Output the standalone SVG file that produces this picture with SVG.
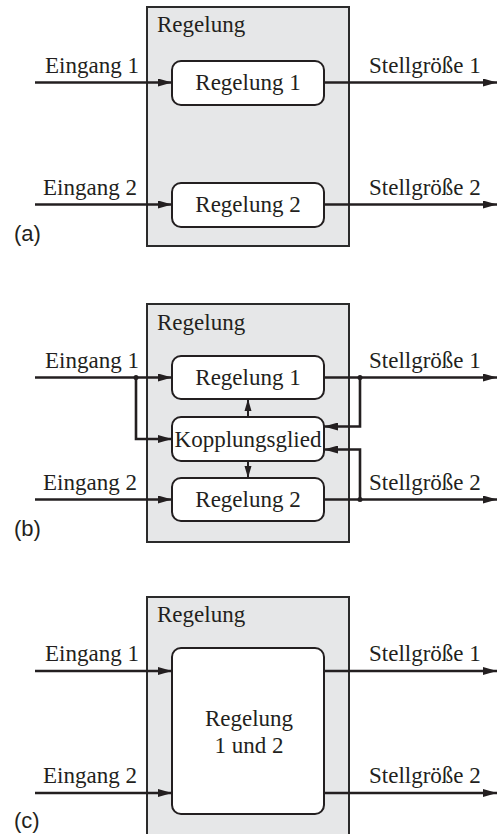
<svg xmlns="http://www.w3.org/2000/svg" width="497" height="834" viewBox="0 0 497 834">
  <style>
    .frame { fill: #e6e7e8; stroke: #2b2b2b; stroke-width: 2; }
    .block { fill: #ffffff; stroke: #231f20; stroke-width: 2; }
    .wire { fill: none; stroke: #231f20; stroke-width: 2.6; }
    .thin { fill: none; stroke: #231f20; stroke-width: 2; }
    .lbl { font-family: "Liberation Serif", "Times New Roman", serif; font-size: 23px; fill: #231f20; }
    .mid { text-anchor: middle; }
    .tag { font-family: "Liberation Sans", Arial, sans-serif; font-size: 22px; fill: #231f20; }
    .dot { fill: #231f20; }
  </style>
  <defs>
    <marker id="arr" markerUnits="userSpaceOnUse" markerWidth="14" markerHeight="8" refX="14" refY="4" orient="auto">
      <path d="M0,0 L14,4 L0,8 z" fill="#231f20"/>
    </marker>
    <marker id="arrS" markerUnits="userSpaceOnUse" markerWidth="12" markerHeight="8" refX="12" refY="4" orient="auto">
      <path d="M0,0.5 L12,4 L0,7.5 z" fill="#231f20"/>
    </marker>
  </defs>

  <!-- (a) two independent controllers -->
  <g id="frameA">
    <rect class="frame" x="147" y="7" width="202" height="239"/>
    <text class="lbl" x="157" y="32">Regelung</text>
  </g>
  <g id="a_reg1">
    <rect class="block" x="172" y="61" width="152" height="44" rx="9"/>
    <text class="lbl mid" x="248" y="90">Regelung 1</text>
  </g>
  <g id="a_reg2">
    <rect class="block" x="172" y="183" width="152" height="44" rx="9"/>
    <text class="lbl mid" x="248" y="212">Regelung 2</text>
  </g>
  <g id="a_connectors">
    <path class="wire" d="M35,82.5 H172" marker-end="url(#arr)"/>
    <path class="wire" d="M35,204.5 H172" marker-end="url(#arr)"/>
    <path class="wire" d="M324,82.5 H497" marker-end="url(#arr)"/>
    <path class="wire" d="M324,204.5 H497" marker-end="url(#arr)"/>
  </g>
  <g id="a_labels">
    <text class="lbl" x="45" y="73">Eingang 1</text>
    <text class="lbl" x="43" y="195">Eingang 2</text>
    <text class="lbl" x="369" y="73">Stellgröße 1</text>
    <text class="lbl" x="369" y="195">Stellgröße 2</text>
    <text class="tag" x="14" y="241">(a)</text>
  </g>

  <!-- (b) controllers with coupling element -->
  <g id="frameB">
    <rect class="frame" x="147" y="304" width="202" height="238"/>
    <text class="lbl" x="157" y="330">Regelung</text>
  </g>
  <g id="b_reg1">
    <rect class="block" x="172" y="356" width="152" height="43" rx="9"/>
    <text class="lbl mid" x="248" y="385">Regelung 1</text>
  </g>
  <g id="b_koppl">
    <rect class="block" x="172" y="417" width="152" height="44" rx="9"/>
    <text class="lbl mid" x="248" y="447">Kopplungsglied</text>
  </g>
  <g id="b_reg2">
    <rect class="block" x="172" y="478" width="152" height="43" rx="9"/>
    <text class="lbl mid" x="248" y="507">Regelung 2</text>
  </g>
  <g id="b_connectors">
    <path class="wire" d="M35,377.5 H172" marker-end="url(#arr)"/>
    <path class="wire" d="M35,499.5 H172" marker-end="url(#arr)"/>
    <path class="wire" d="M324,377.5 H497" marker-end="url(#arr)"/>
    <path class="wire" d="M324,499.5 H497" marker-end="url(#arr)"/>
    <path class="wire" d="M136,377.5 V439 H172" marker-end="url(#arr)"/>
    <path class="wire" d="M360,377.5 V426.5 H324" marker-end="url(#arr)"/>
    <path class="wire" d="M360,499.5 V449.5 H324" marker-end="url(#arr)"/>
    <path class="thin" d="M248,417 V399" marker-end="url(#arrS)"/>
    <path class="thin" d="M248,461 V478" marker-end="url(#arrS)"/>
    <circle class="dot" cx="136" cy="377.5" r="2.5"/>
    <circle class="dot" cx="360" cy="377.5" r="2.5"/>
    <circle class="dot" cx="360" cy="499.5" r="2.5"/>
  </g>
  <g id="b_labels">
    <text class="lbl" x="45" y="368">Eingang 1</text>
    <text class="lbl" x="43" y="490">Eingang 2</text>
    <text class="lbl" x="369" y="368">Stellgröße 1</text>
    <text class="lbl" x="369" y="490">Stellgröße 2</text>
    <text class="tag" x="14" y="536">(b)</text>
  </g>

  <!-- (c) single multivariable controller -->
  <g id="frameC">
    <rect class="frame" x="147" y="597" width="202" height="245"/>
    <text class="lbl" x="157" y="622">Regelung</text>
  </g>
  <g id="c_reg">
    <rect class="block" x="172" y="648" width="152" height="166" rx="9"/>
    <text class="lbl mid" x="249" y="726">Regelung</text>
    <text class="lbl mid" x="249" y="753">1 und 2</text>
  </g>
  <g id="c_connectors">
    <path class="wire" d="M35,671 H172" marker-end="url(#arr)"/>
    <path class="wire" d="M35,793 H172" marker-end="url(#arr)"/>
    <path class="wire" d="M324,671 H497" marker-end="url(#arr)"/>
    <path class="wire" d="M324,793 H497" marker-end="url(#arr)"/>
  </g>
  <g id="c_labels">
    <text class="lbl" x="45" y="661">Eingang 1</text>
    <text class="lbl" x="43" y="783">Eingang 2</text>
    <text class="lbl" x="369" y="661">Stellgröße 1</text>
    <text class="lbl" x="369" y="783">Stellgröße 2</text>
    <text class="tag" x="14" y="828">(c)</text>
  </g>
</svg>
